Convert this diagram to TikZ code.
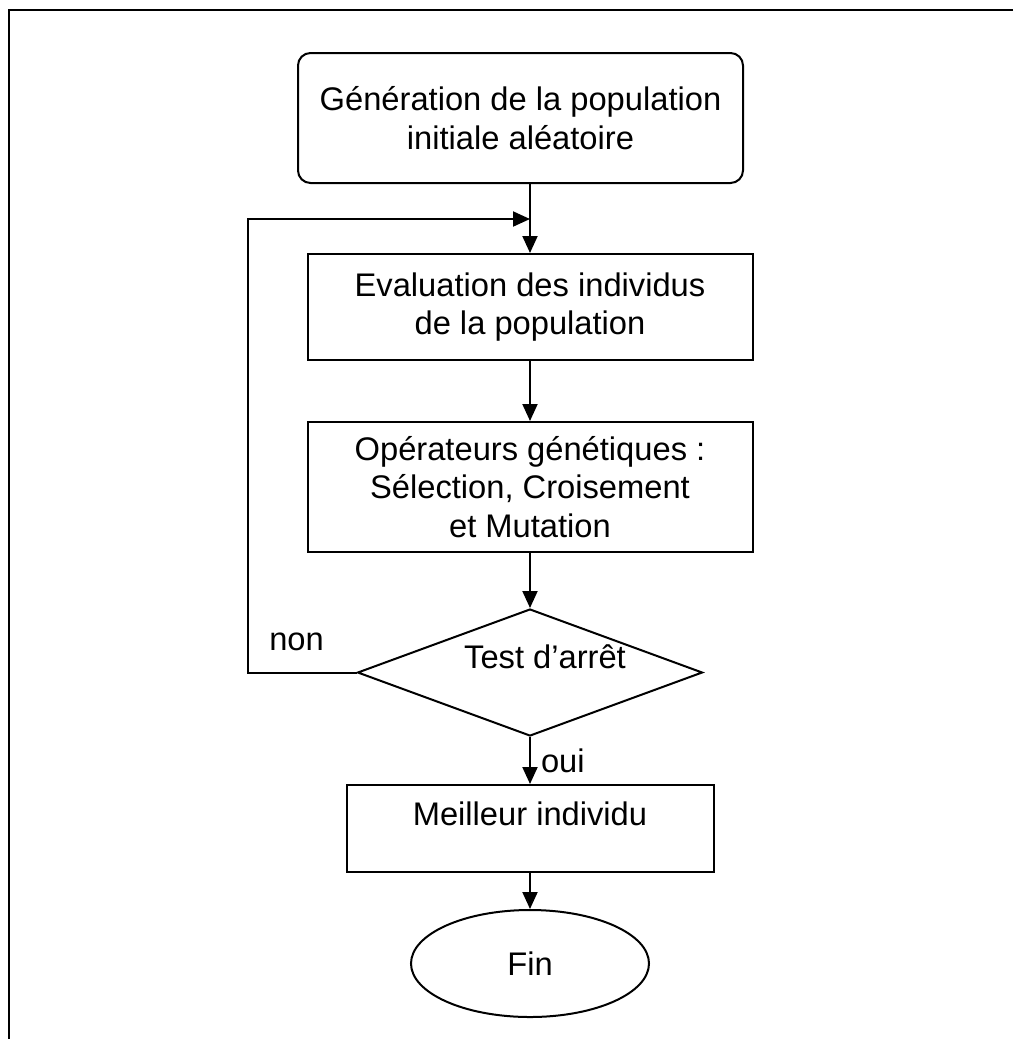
\documentclass[tikz,border=0pt]{standalone}
\usepackage{fontspec}
\setmainfont{Liberation Sans}
\usetikzlibrary{positioning,arrows.meta,shapes.geometric}
\tikzset{
  fig/.style={font=\fontsize{18.6}{22}\selectfont,x=1mm,y=1mm},
  box/.style={draw,line width=0.4mm,minimum width=89mm,align=center,inner sep=0pt},
  startbox/.style={box,rounded corners=2.5mm,minimum height=26mm},
  testbox/.style={draw,line width=0.4mm,diamond,aspect=2.7,minimum width=69mm,
                  minimum height=25.4mm,inner sep=0pt},
  endbox/.style={draw,line width=0.4mm,ellipse,minimum width=47.6mm,
                 minimum height=21.4mm,inner sep=0pt},
  ln/.style={-{Triangle[length=3.4mm,width=3mm]},line width=0.4mm},
  lbl/.style={inner sep=0pt},
  frame/.style={line width=0.5mm},
}

\begin{document}
\begin{tikzpicture}[fig]

% --- page frame, also fixes the size of the picture
\useasboundingbox (0,0) rectangle (202.6,-207.8);
\draw[frame] (202.6,-2.0) -- (1.8,-2.0) -- (1.8,-207.8);

% --- the chain, top to bottom ---------------------------------------------
\node[startbox] (start) at (104.1,-23.6) {Génération de la population\\initiale aléatoire};
\node[box,minimum height=21.2mm,below=13.8mm of start,xshift=1.9mm] (eval)
      {Evaluation des individus\\de la population};
\node[box,minimum height=26mm,below=12mm of eval] (oper)
      {Opérateurs génétiques :\\Sélection, Croisement\\et Mutation};
\node[testbox,below=11mm of oper,
      label={[lbl,xshift=3mm,yshift=3.2mm]center:Test d’arrêt}] (test) {};
\node[box,minimum width=73.4mm,text height=8mm,text depth=9.4mm,
      below=9.4mm of test] (best) {Meilleur individu};
\node[endbox,below=7.2mm of best] (fin) {Fin};

% --- connectors
\coordinate (top) at (eval.north |- start.south);
\coordinate (merge) at ([yshift=-7mm]top);
\draw[ln] (top) -- (eval.north);
\draw[ln] (eval) -- (oper);
\draw[ln] (oper) -- (test);
\draw[ln] (test) -- node[lbl,right=2mm]{oui} (best);
\draw[ln] (best) -- (fin);
\draw[ln] (test.west) -- node[lbl,above=4.2mm,pos=0.55]{non} ++(-21.8,0) |- (merge);

\end{tikzpicture}
\end{document}
